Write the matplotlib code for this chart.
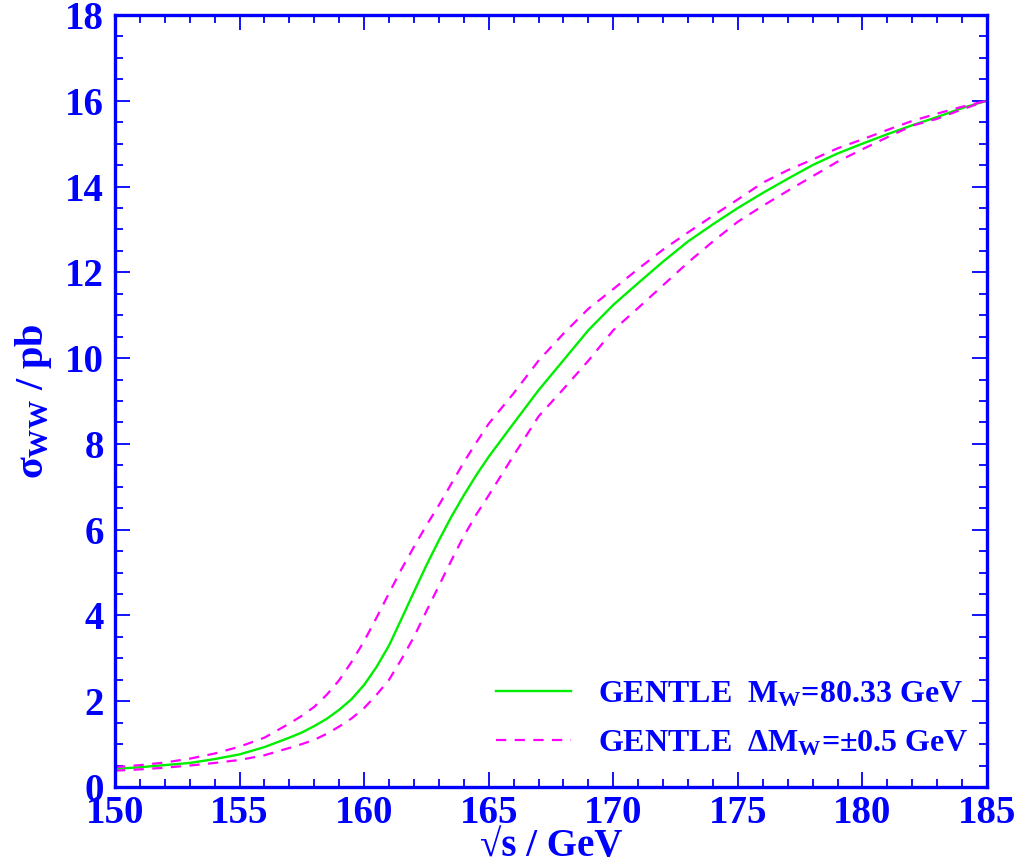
import matplotlib
matplotlib.use("Agg")
import matplotlib.pyplot as plt
from matplotlib.ticker import MultipleLocator

# sqrt(s) in GeV (half-GeV steps across the threshold rise)
energy = [150, 151, 152, 153, 154, 155, 156, 157, 157.5, 158, 158.5, 159, 159.5,
          160, 160.5, 161, 161.5, 162, 162.5, 163, 163.5, 164, 164.5, 165, 166,
          167, 168, 169, 170, 171, 172, 173, 174, 175, 176, 177, 178, 179,
          180, 181, 182, 183, 184, 185]

# sigma_WW in pb, central M_W = 80.33 GeV
sigma_central = [0.42, 0.46, 0.51, 0.56, 0.65, 0.76, 0.93, 1.15, 1.27, 1.42, 1.59, 1.80, 2.05,
                 2.38, 2.80, 3.30, 3.92, 4.55, 5.17, 5.75, 6.30, 6.80, 7.27, 7.70, 8.48,
                 9.25, 9.95, 10.65, 11.24, 11.75, 12.25, 12.72, 13.12, 13.50, 13.85, 14.18, 14.50, 14.77,
                 15.00, 15.22, 15.43, 15.62, 15.83, 16.00]

# M_W - 0.5 GeV
sigma_low_mw = [0.46, 0.51, 0.57, 0.66, 0.78, 0.94, 1.15, 1.48, 1.66, 1.87, 2.15, 2.49, 2.92,
                3.40, 3.95, 4.52, 5.08, 5.60, 6.10, 6.57, 7.07, 7.57, 8.03, 8.47, 9.18,
                9.94, 10.57, 11.15, 11.61, 12.08, 12.53, 12.93, 13.32, 13.70, 14.09, 14.38, 14.63, 14.89,
                15.10, 15.32, 15.53, 15.70, 15.86, 16.00]

# M_W + 0.5 GeV
sigma_high_mw = [0.38, 0.41, 0.45, 0.50, 0.56, 0.63, 0.74, 0.91, 1.00, 1.10, 1.24, 1.41, 1.60,
                 1.84, 2.15, 2.50, 2.98, 3.50, 4.10, 4.69, 5.28, 5.85, 6.35, 6.80, 7.73,
                 8.64, 9.28, 9.94, 10.65, 11.17, 11.70, 12.23, 12.72, 13.18, 13.55, 13.90, 14.24, 14.58,
                 14.87, 15.15, 15.42, 15.58, 15.80, 16.00]

BLUE = "#0000ff"
GREEN = "#00ee00"
MAGENTA = "#ff00ff"

plt.rcParams["font.family"] = ["Liberation Serif", "DejaVu Serif"]
plt.rcParams["font.weight"] = "bold"
plt.rcParams["axes.labelweight"] = "bold"
plt.rcParams["mathtext.fontset"] = "custom"
plt.rcParams["mathtext.rm"] = "Liberation Serif:bold"
plt.rcParams["mathtext.it"] = "Liberation Serif:bold"
plt.rcParams["mathtext.bf"] = "Liberation Serif:bold"
plt.rcParams["mathtext.sf"] = "Liberation Serif:bold"

fig = plt.figure(figsize=(10.2, 8.65), dpi=100)
ax = fig.add_axes([0.1127, 0.0902, 0.855, 0.8925])

ax.plot(energy, sigma_central, color=GREEN, lw=1.7,
        label=r"GENTLE  M$_\mathrm{W}$=80.33 GeV")
ax.plot(energy, sigma_low_mw, color=MAGENTA, lw=1.6, dashes=(4.6, 3.8),
        label=r"GENTLE  $\Delta$M$_\mathrm{W}$=$\pm$0.5 GeV")
ax.plot(energy, sigma_high_mw, color=MAGENTA, lw=1.6, dashes=(4.6, 3.8))

ax.set_xlim(150, 185)
ax.set_ylim(0, 18)
ax.xaxis.set_major_locator(MultipleLocator(5))
ax.xaxis.set_minor_locator(MultipleLocator(1))
ax.yaxis.set_major_locator(MultipleLocator(2))
ax.yaxis.set_minor_locator(MultipleLocator(0.5))

for side in ax.spines.values():
    side.set_color(BLUE)
    side.set_linewidth(2.4)

ax.tick_params(which="both", direction="in", top=True, right=True,
               colors=BLUE, width=1.3)
ax.tick_params(which="major", length=11, labelsize=28)
ax.tick_params(which="minor", length=5.5)
ax.tick_params(axis="x", which="major", pad=6)
ax.tick_params(axis="y", which="major", pad=8)
for lab in ax.get_xticklabels() + ax.get_yticklabels():
    lab.set_fontweight("bold")
    lab.set_color(BLUE)

ax.set_xlabel("\u221as / GeV", fontsize=28, color=BLUE, labelpad=-3)
ax.set_ylabel(r"$\sigma_\mathrm{WW}$ / pb", fontsize=29, color=BLUE, labelpad=8)

leg = ax.legend(loc="lower right", bbox_to_anchor=(1.012, 0.0), frameon=False,
                fontsize=23, handlelength=2.35, handletextpad=0.85,
                labelspacing=0.6)
for t in leg.get_texts():
    t.set_color(BLUE)

fig.savefig("out.png", dpi=100)
